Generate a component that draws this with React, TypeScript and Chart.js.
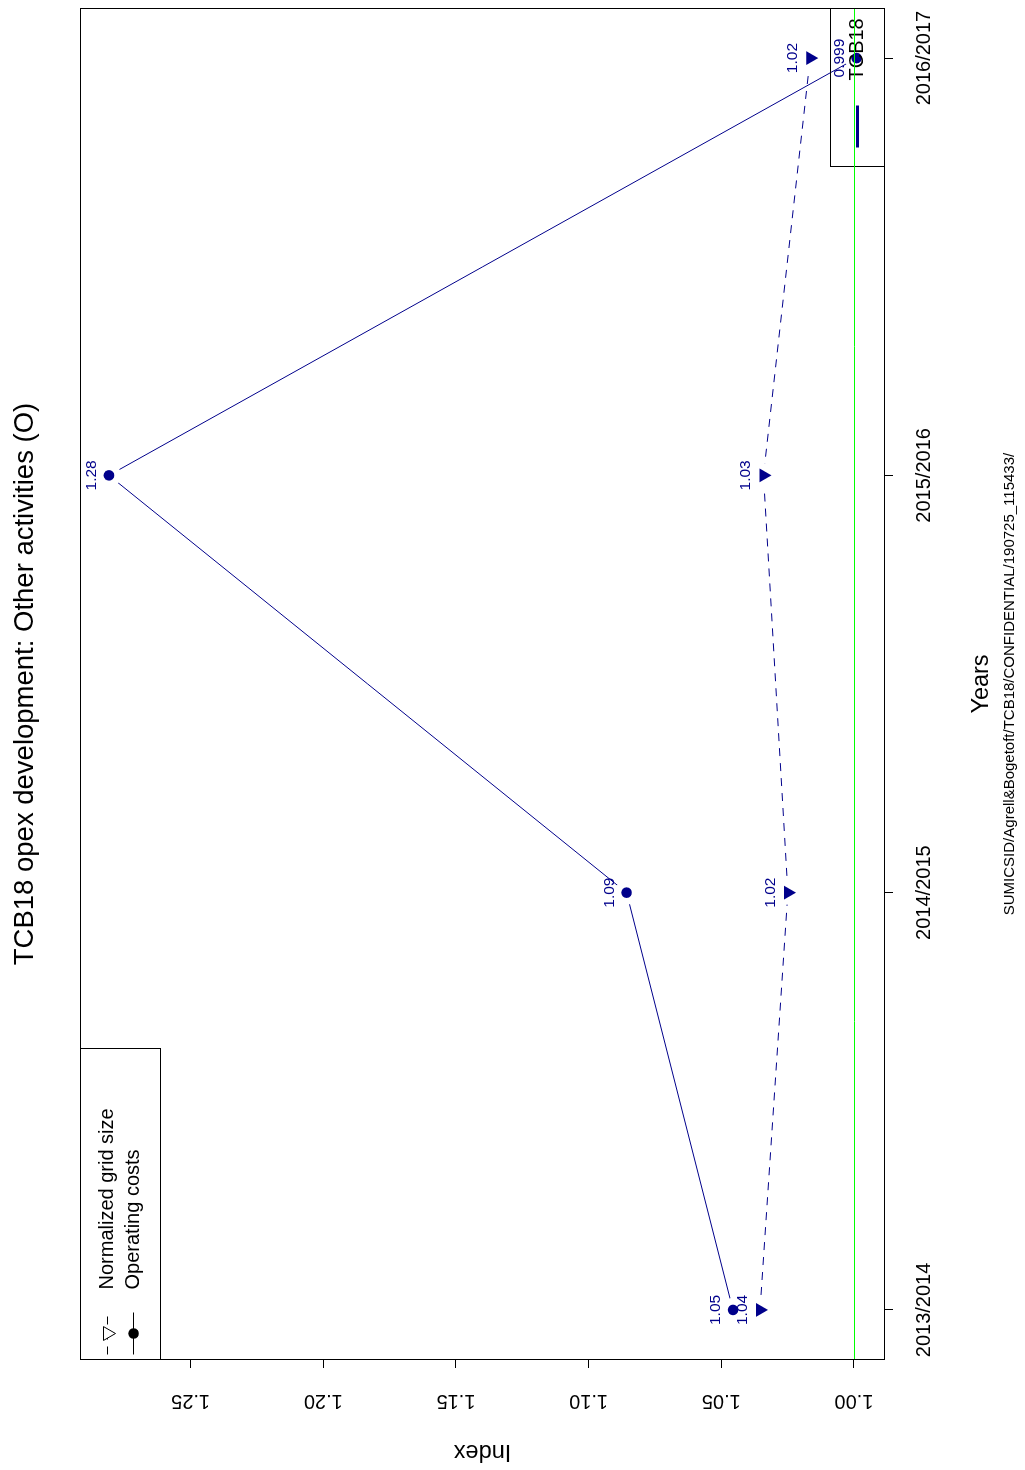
import React, { useEffect, useRef } from 'react';
import { Chart, registerables } from 'chart.js';

Chart.register(...registerables);

// ---------- data ----------
const years = ['2013/2014', '2014/2015', '2015/2016', '2016/2017'];
const normalizedGridSize = [1.0354, 1.0249, 1.0341, 1.0165];
const operatingCosts = [1.0456, 1.0857, 1.2808, 0.999];
const indexTicks = [1.0, 1.05, 1.1, 1.15, 1.2, 1.25];
const indexMin = 0.9883;
const indexMax = 1.2917;
const yearMin = 0.88;
const yearMax = 4.12;
const referenceLevel = 1.0;
const seriesNames = ['Normalized grid size', 'Operating costs'];
const referenceName = 'TCB18';
const titleText = 'TCB18 opex development: Other activities (O)';
const xTitle = 'Years';
const yTitle = 'Index';
const footerText = 'SUMICSID/Agrell&Bogetoft/TCB18/CONFIDENTIAL/190725_115433/';

// ---------- style ----------
const NAVY = '#00008B';
const REF_GREEN = '#00FF00';
const FONT = "'Liberation Sans', Arial, Helvetica, sans-serif";

const toPoints = (vals: number[]) => vals.map((v, i) => ({ x: i + 1, y: v }));
const fmt = (v: number) => String(Number(v.toPrecision(3)));

const decorPlugin = {
  id: 'decor',
  afterDatasetsDraw(chart: any) {
    const { ctx, scales } = chart;
    const x = scales.x;
    const y = scales.y;
    ctx.save();
    ctx.fillStyle = NAVY;
    ctx.font = `15.5px ${FONT}`;
    ctx.textAlign = 'center';
    ctx.textBaseline = 'alphabetic';
    [normalizedGridSize, operatingCosts].forEach((series) =>
      series.forEach((v, i) => {
        const px = x.getPixelForValue(i + 1);
        const py = y.getPixelForValue(v);
        ctx.fillText(fmt(v), px, py - 13);
      })
    );
    ctx.restore();
  },
  afterDraw(chart: any) {
    const { ctx, chartArea: ca, scales } = chart;
    const y = scales.y;
    ctx.save();
    // plot box
    ctx.strokeStyle = '#000';
    ctx.lineWidth = 1;
    const L = Math.round(ca.left) + 0.5;
    const T = Math.round(ca.top) + 0.5;
    const R = Math.round(ca.right) - 0.5;
    const B = Math.round(ca.bottom) - 0.5;
    ctx.strokeRect(L, T, R - L, B - T);

    // top-left legend
    ctx.strokeRect(L, T, 311, 80);
    const rows = [T + 27, T + 53];
    ctx.font = `20px ${FONT}`;
    ctx.fillStyle = '#000';
    ctx.textAlign = 'left';
    ctx.textBaseline = 'middle';
    // row 1: dashed line with open triangle
    ctx.setLineDash([8, 7]);
    ctx.beginPath();
    ctx.moveTo(L + 5, rows[0]);
    ctx.lineTo(L + 47, rows[0]);
    ctx.stroke();
    ctx.setLineDash([]);
    {
      const cx = L + 26, cy = rows[0], r = 8;
      ctx.beginPath();
      for (let k = 0; k < 3; k++) {
        const a = Math.PI + (k * 2 * Math.PI) / 3;
        const px = cx + Math.sin(a) * r;
        const py = cy - Math.cos(a) * r;
        if (k === 0) ctx.moveTo(px, py); else ctx.lineTo(px, py);
      }
      ctx.closePath();
      ctx.fillStyle = '#fff';
      ctx.fill();
      ctx.stroke();
    }
    // row 2: solid line with filled circle
    ctx.beginPath();
    ctx.moveTo(L + 5, rows[1]);
    ctx.lineTo(L + 47, rows[1]);
    ctx.stroke();
    ctx.beginPath();
    ctx.arc(L + 26, rows[1], 5.3, 0, Math.PI * 2);
    ctx.fillStyle = '#000';
    ctx.fill();
    ctx.fillText(seriesNames[0], L + 70, rows[0]);
    ctx.fillText(seriesNames[1], L + 70, rows[1]);

    // bottom-right legend
    ctx.strokeRect(R - 158, B - 54, 158, 54);
    const ry = B - 27;
    ctx.strokeStyle = NAVY;
    ctx.lineWidth = 3;
    ctx.beginPath();
    ctx.moveTo(R - 139, ry);
    ctx.lineTo(R - 97, ry);
    ctx.stroke();
    ctx.fillStyle = '#000';
    ctx.fillText(referenceName, R - 72, ry);

    // reference line
    const gy = Math.round(y.getPixelForValue(referenceLevel)) + 0.5;
    ctx.strokeStyle = REF_GREEN;
    ctx.lineWidth = 1;
    ctx.beginPath();
    ctx.moveTo(ca.left + 1, gy);
    ctx.lineTo(ca.right - 1, gy);
    ctx.stroke();
    ctx.restore();
  },
};

export default function App() {
  const ref = useRef<HTMLCanvasElement>(null);
  useEffect(() => {
    Chart.defaults.font.family = FONT;
    Chart.defaults.color = '#000';
    const gridPts = toPoints(normalizedGridSize);
    const costPts = toPoints(operatingCosts);
    const tickGrid = { drawOnChartArea: false, drawTicks: true, tickLength: 8, color: '#000', lineWidth: 1 };
    const chart = new Chart(ref.current as HTMLCanvasElement, {
      type: 'line',
      data: {
        datasets: [
          { label: seriesNames[0] + ' line', data: gridPts, borderColor: NAVY, borderWidth: 1, borderDash: [8, 7], pointRadius: 0, order: 3, fill: false },
          { label: seriesNames[1] + ' line', data: costPts, borderColor: NAVY, borderWidth: 1, pointRadius: 0, order: 3, fill: false },
          { label: 'gap1', data: gridPts, showLine: false, pointRadius: 12, pointStyle: 'circle', pointBackgroundColor: '#fff', pointBorderWidth: 0, order: 2 },
          { label: 'gap2', data: costPts, showLine: false, pointRadius: 12, pointStyle: 'circle', pointBackgroundColor: '#fff', pointBorderWidth: 0, order: 2 },
          { label: seriesNames[0], data: gridPts, showLine: false, pointStyle: 'triangle', pointRotation: 180, pointRadius: 8, pointBackgroundColor: NAVY, pointBorderWidth: 0, order: 1 },
          { label: seriesNames[1], data: costPts, showLine: false, pointStyle: 'circle', pointRadius: 5.3, pointBackgroundColor: NAVY, pointBorderWidth: 0, order: 1 },
        ],
      } as any,
      options: {
        responsive: false,
        animation: false,
        events: [],
        devicePixelRatio: 1,
        layout: { autoPadding: false, padding: { left: 0, right: 8, top: 0, bottom: 0 } },
        plugins: {
          legend: { display: false },
          tooltip: { enabled: false },
          title: {
            display: true,
            text: titleText,
            fullSize: false,
            color: '#000',
            font: { size: 27.5, weight: 'normal', family: FONT, lineHeight: 1.2 },
            padding: { top: 8.5, bottom: 38.5 },
          },
          subtitle: {
            display: true,
            position: 'bottom',
            text: footerText,
            fullSize: false,
            color: '#000',
            font: { size: 15, weight: 'normal', family: FONT, lineHeight: 1.2 },
            padding: { top: 0, bottom: 6 },
          },
        },
        scales: {
          x: {
            type: 'linear',
            min: yearMin,
            max: yearMax,
            afterBuildTicks: (s: any) => { s.ticks = years.map((_, i) => ({ value: i + 1 })); },
            afterFit: (s: any) => { s.height = 116; s.paddingLeft = 0; s.paddingRight = 0; },
            ticks: {
              autoSkip: false, maxRotation: 0, minRotation: 0, padding: 19, color: '#000',
              font: { size: 20 },
              callback: (v: any) => years[Math.round(Number(v)) - 1] ?? '',
            },
            grid: tickGrid,
            border: { display: false },
            title: { display: true, text: xTitle, color: '#000', font: { size: 23.5 }, padding: { top: 0, bottom: 5 } },
          },
          y: {
            type: 'linear',
            min: indexMin,
            max: indexMax,
            afterBuildTicks: (s: any) => { s.ticks = indexTicks.map((v) => ({ value: v })); },
            afterFit: (s: any) => { s.width = 110; s.paddingTop = 0; s.paddingBottom = 0; },
            ticks: {
              minRotation: 90, maxRotation: 90, crossAlign: 'center', padding: 13.5, color: '#000',
              font: { size: 20 },
              callback: (v: any) => Number(v).toFixed(2),
            },
            grid: tickGrid,
            border: { display: false },
            title: { display: true, text: yTitle, color: '#000', font: { size: 23.5 }, padding: { top: 4, bottom: 0 } },
          },
        },
      } as any,
      plugins: [decorPlugin],
    });
    return () => chart.destroy();
  }, []);

  return (
    <div style={{ position: 'fixed', left: 0, top: 0, width: 1025, height: 1470, overflow: 'hidden', background: '#fff' }}>
      <div
        style={{
          position: 'absolute', left: 0, top: 0, width: 1470, height: 1025,
          transformOrigin: '0 0', transform: 'translate(0px, 1470px) rotate(-90deg)',
        }}
      >
        <canvas ref={ref} width={1470} height={1025} style={{ display: 'block', width: 1470, height: 1025 }} />
      </div>
    </div>
  );
}
